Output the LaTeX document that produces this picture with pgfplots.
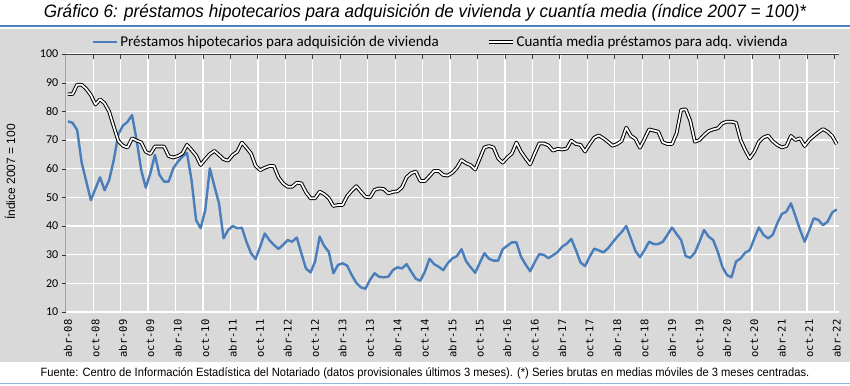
\documentclass[border=0pt]{standalone}
\usepackage{fontspec}
\usepackage{pgfplots}
\usepackage{pgfplotstable}
\pgfplotsset{compat=1.18}
\setmainfont{Carlito}
\newfontfamily\titlefont{Liberation Sans}[FakeStretch=0.95]
\newfontfamily\notefont{Liberation Sans}[FakeStretch=0.93]
\newfontfamily\arialfont{Liberation Sans}
\newfontfamily\monofont{DejaVu Sans Mono}
\definecolor{bgg}{RGB}{217,217,217}
\definecolor{serblue}{RGB}{74,126,187}
\definecolor{ruleblue}{RGB}{79,129,189}

\pgfplotstableread{
i p c
0 76.5 86
1 76 86
2 73.5 89.3
3 62 89.3
4 55.5 87.8
5 49 85.7
6 53 82.4
7 57 84.2
8 52.5 82.8
9 56 79.9
10 63 74.7
11 72 69.7
12 75 68
13 76.3 67.4
14 78.7 70.6
15 70 69.8
16 59.5 69.2
17 53.4 65.9
18 58.4 65.1
19 64.8 67.7
20 57.8 67.7
21 55.5 67.7
22 55.5 64.4
23 60.1 63.9
24 62.4 64.4
25 64.2 65.3
26 65.5 68.3
27 56 66.5
28 42 64.6
29 39.2 61.3
30 45.6 63.3
31 60.1 65.1
32 53.9 66.2
33 47.9 64.8
34 35.7 63.3
35 38.6 62.8
36 40 64.8
37 39.2 65.9
38 39.4 69.1
39 34.5 67.3
40 30.5 65.3
41 28.5 61
42 32.8 59.5
43 37.4 60.3
44 35.1 60.9
45 33.4 60.9
46 32 57
47 33.4 54.9
48 35.1 53.7
49 34.5 53.7
50 36 55.1
51 30.5 54.9
52 25.2 51.8
53 23.8 49.7
54 27.6 49.7
55 36.3 52
56 33 51.1
57 31 49.7
58 23.5 47
59 26.4 47.3
60 27 47.3
61 26.2 50.4
62 22.9 52.3
63 20.2 53.9
64 18.6 52
65 18.1 50.2
66 21.2 50
67 23.5 52.6
68 22.3 53.1
69 22.1 52.9
70 22.3 51.4
71 24.6 51.9
72 25.6 52.1
73 25.2 53.5
74 26.7 57
75 24.1 58.4
76 21.6 59
77 20.9 55.7
78 24.1 55.7
79 28.6 57.4
80 26.7 59.2
81 25.8 59.2
82 24.6 57.8
83 27 57.6
84 28.7 58.6
85 29.5 60.3
86 31.9 63
87 27.7 61.9
88 25.6 61.2
89 23.7 59.7
90 27.2 63.6
91 30.5 67.4
92 28.6 67.9
93 27.9 67.4
94 27.9 63.6
95 31.9 62.1
96 33.1 63.9
97 34.3 65.3
98 34.3 69.1
99 29.3 65.9
100 26.6 63.6
101 24.2 61.5
102 27.4 65.3
103 30.2 68.8
104 29.9 68.8
105 28.8 68.1
106 29.8 66.3
107 30.9 66.9
108 32.8 66.7
109 33.8 67
110 35.5 69.8
111 31.6 68.6
112 27.3 68.3
113 26 66
114 29.3 68.6
115 32.1 70.8
116 31.5 71.6
117 30.8 70.6
118 32.2 69.4
119 34.2 68
120 36.2 68.6
121 37.9 69.7
122 40 74.3
123 35.7 71.5
124 31.3 70.4
125 29.1 67.3
126 31.6 70.4
127 34.5 73.7
128 33.7 73.3
129 33.7 72.9
130 34.5 69.2
131 36.9 68.6
132 39.5 68.6
133 37.2 72.3
134 35.1 80.5
135 29.5 80.7
136 28.9 76.7
137 30.7 69.4
138 34.5 70
139 38.6 71.7
140 36.3 73.1
141 35.1 73.7
142 31 74.1
143 25.8 75.8
144 22.9 76.4
145 22.1 76.4
146 27.6 76
147 28.7 70
148 30.7 66.5
149 31.6 63.6
150 35.7 65.9
151 39.5 69.4
152 36.9 70.9
153 35.7 71.5
154 36.9 69.6
155 40.9 68.3
156 44.2 67.4
157 45 67.9
158 47.9 71.4
159 43.3 70
160 38.6 70.6
161 34.5 67.9
162 38.6 70
163 42.7 71.4
164 42.1 72.7
165 40.3 73.8
166 41.5 72.9
167 44.7 71.4
168 45.8 68.6
}\datatable

\begin{document}
\begin{tikzpicture}
\useasboundingbox (0pt,0pt) rectangle (850pt,385pt);
\fill[white] (0pt,0pt) rectangle (850pt,385pt);
\fill[bgg] (0pt,23pt) rectangle (850pt,356pt);
\draw[ruleblue, line width=2pt] (0pt,359pt) -- (850pt,359pt);
\draw[ruleblue!60, line width=0.8pt] (0pt,1.5pt) -- (850pt,1.5pt);
\node[font=\titlefont\itshape\fontsize{18}{18}\selectfont] at (425pt,372pt) {Gráfico 6: préstamos hipotecarios para adquisición de vivienda y cuantía media (índice 2007 = 100)*};
\node[font=\notefont\fontsize{12}{12}\selectfont] at (425pt,12pt) {Fuente: Centro de Información Estadística del Notariado (datos provisionales últimos 3 meses). (*) Series brutas en medias móviles de 3 meses centradas.};
\node[rotate=90, font=\arialfont\fontsize{12}{12}\selectfont] at (10pt,213pt) {Índice 2007 = 100};
\begin{axis}[
  at={(65.7pt,73pt)}, anchor=south west,
  scale only axis, width=773.3pt, height=258pt,
  xmin=-0.5, xmax=168.5, ymin=10, ymax=100,
  ytick={10,20,...,100},
  xtick={0,6,...,168},
  xticklabels={abr-08,oct-08,abr-09,oct-09,abr-10,oct-10,abr-11,oct-11,abr-12,oct-12,abr-13,oct-13,abr-14,oct-14,abr-15,oct-15,abr-16,oct-16,abr-17,oct-17,abr-18,oct-18,abr-19,oct-19,abr-20,oct-20,abr-21,oct-21,abr-22},
  minor xtick={5.5,11.5,...,167.5},
  xminorgrids, ymajorgrids,
  major grid style={white, line width=1.3pt},
  minor grid style={white, line width=1.3pt},
  axis line style={draw=none},
  axis background/.style={fill=bgg},
  tick align=outside,
  ytick pos=left,
  major x tick style={draw=none},
  minor x tick style={draw=none},
  major tick length=4pt,
  tick style={black!80},
  yticklabel style={font=\fontsize{12}{12}\selectfont},
  /pgf/number format/assume math mode=true,
  xticklabel style={font=\monofont\fontsize{10.5}{10.5}\selectfont, rotate=90, anchor=east},
  legend style={at={(0.485,1.047)}, anchor=center, draw=none, fill=none,
    legend columns=2, font=\fontsize{15}{15}\selectfont,
    /tikz/every even column/.append style={column sep=46pt}},
  legend image code/.code={\draw[#1, line join=round] (0pt,0pt) -- (24pt,0pt);},
]
\addplot[serblue, line width=2.4pt, line join=round] table[x=i,y=p] {\datatable};
\addlegendentry{Préstamos hipotecarios para adquisición de vivienda}
\addplot[black, line width=1pt, double=white, double distance=1.7pt, line join=round] table[x=i,y=c] {\datatable};
\addlegendentry{Cuantía media préstamos para adq. vivienda}
\draw[black!75, line width=0.8pt] (axis cs:-0.5,10) -- (axis cs:-0.5,100) -- (axis cs:168.5,100);
\pgfplotsinvokeforeach{5.5,11.5,...,167.5}{\draw[black!75, line width=0.8pt] (axis cs:#1,100) -- ++(0pt,-4.5pt);}
\end{axis}
\end{tikzpicture}
\end{document}
